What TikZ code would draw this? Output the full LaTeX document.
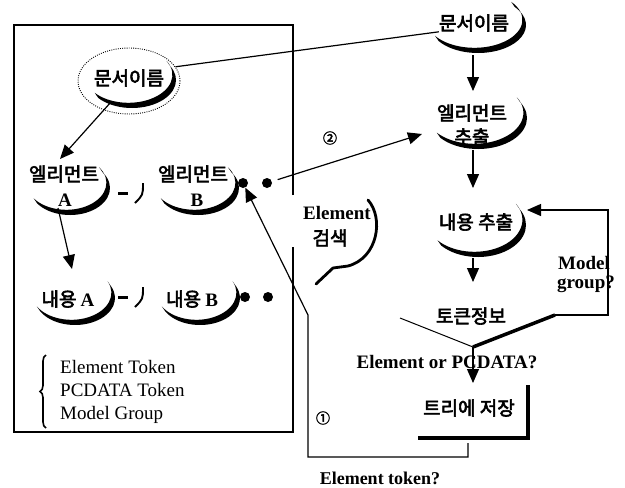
\documentclass[tikz,border=0pt]{standalone}
\usepackage{fontspec}
\setmainfont{Liberation Serif}
\newfontfamily\kr[FakeBold=3]{Noto Sans CJK KR}
\usetikzlibrary{arrows.meta,shapes.geometric,decorations.pathreplacing}
\begin{document}
\begin{tikzpicture}[x=1pt,y=-1pt,
  kr/.style={font=\kr\fontsize{19}{22}\selectfont, inner sep=0pt},
  lat/.style={font=\fontsize{19}{22}\selectfont, inner sep=0pt},
  latb/.style={font=\fontsize{19}{22}\selectfont\bfseries, inner sep=0pt},
  conn/.style={line width=1.2pt},
  arr/.style={line width=1.2pt, -{Triangle[length=14pt,width=12pt]}},
  dot/.style={circle, fill, inner sep=0pt, minimum size=10pt},
  circ/.style={font=\kr\fontsize{14}{16}\selectfont, inner sep=0pt},
  pics/swoosh/.style n args={4}{code={
    \fill (#3:#1 and #2) arc[start angle=#3,end angle=#4,x radius=#1,y radius=#2]
      -- ([shift={(-3.6,-5.2)}]#4:#1 and #2)
      arc[start angle=#4,end angle=#3,x radius=#1,y radius=#2] -- cycle;
  }}]
\useasboundingbox (0,0) rectangle (625,488);

% left frame (open on the right between 195 and 247)
\draw[line width=1.5pt] (293,195) -- (293,25) -- (14,25) -- (14,432) -- (293,432) -- (293,247);

% text nodes
\node[kr] (docL) at (129,78) {문서이름};
\node[draw, ellipse, line width=0.9pt, dash pattern=on 0.9pt off 1.3pt,
      minimum width=102pt, minimum height=66pt, inner sep=0pt] (ell) at (129,81) {};
\node[kr] (docR) at (474,23) {문서이름};
\node[kr] (elA) at (64,174) {엘리먼트};
\node[latb] (elAl) at (65,200) {A};
\node[kr] (elB) at (193,174) {엘리먼트};
\node[latb] (elBl) at (197,200) {B};
\node[kr] (conA) at (68,299) {내용 {\rmfamily\bfseries A}};
\node[kr] (conB) at (192,299) {내용 {\rmfamily\bfseries B}};
\node[kr] (elX) at (472,113) {엘리먼트};
\node[kr] (elXl) at (472,137) {추출};
\node[kr] (conX) at (476,222) {내용 추출};
\node[kr] (tok) at (471,316) {토큰정보};
\node[kr] (tree) at (469,408) {트리에 저장};
\node[latb] (srch) at (337,213) {Element};
\node[kr] (srch2) at (330,238) {검색};
\node[latb] (q1) at (447,362) {Element or PCDATA?};
\node[latb, font=\fontsize{18}{20}\selectfont\bfseries] (q2) at (380,478) {Element token?};
\node[latb] (q3a) at (584,263) {Model};
\node[latb] (q3b) at (586,284) {group?};
\node[lat, anchor=west] (l1) at (60,367) {Element Token};
\node[lat, anchor=west] (l2) at (60,390) {PCDATA Token};
\node[lat, anchor=west] (l3) at (60,415) {Model Group};
\node[circ] (c1) at (323,418) {①};
\node[circ] (c2) at (330,138) {②};

% dots
\node[dot] (dB1) at (243,183) {};
\node[dot] (dB2) at (267,183) {};
\node[dot] (dC1) at (245,297) {};
\node[dot] (dC2) at (268,297) {};

% swooshes
\pic at (132,80) {swoosh={44}{28}{140}{-30}};
\pic at (478,25) {swoosh={48}{28}{145}{-40}};
\pic at (478,118) {swoosh={49}{31}{140}{-30}};
\pic at (478,225) {swoosh={48}{32}{140}{-30}};
\pic at (70,188) {swoosh={40}{27}{145}{-35}};
\pic at (198,188) {swoosh={41}{27}{145}{-35}};
\pic at (75,298) {swoosh={40}{27}{150}{-25}};
\pic at (200,298) {swoosh={40}{27}{150}{-25}};

% Element search callout
\draw[line width=2.8pt, line cap=round, line join=round]
  (368,200) .. controls (384,218) and (378,258) .. (348,266) -- (333,268) -- (316,284);

% small -> marks between A and B
\coordinate (m1a) at (118,193); \coordinate (m1b) at (128,193);
\coordinate (m1c) at (143,183); \coordinate (m1d) at (135,203);
\draw[line width=3pt] (m1a) -- (m1b);
\draw[line width=1.9pt] (m1c) .. controls (143,195) .. (m1d);
\coordinate (m2a) at (118,297); \coordinate (m2b) at (128,297);
\coordinate (m2c) at (143,287); \coordinate (m2d) at (135,307);
\draw[line width=3pt] (m2a) -- (m2b);
\draw[line width=1.9pt] (m2c) .. controls (143,299) .. (m2d);

% brace
\draw[decorate, decoration={brace, amplitude=6pt}, line width=1.6pt] (46,428) -- (46,355);

% connectors
\draw[conn] (ell.17) -- (docR.south west);
\coordinate (a1s) at (111,102); \coordinate (a1e) at (60,159);
\draw[arr] (a1s) -- (a1e);
\coordinate (a2s) at (58,208); \coordinate (a2e) at (72,269);
\draw[arr] (a2s) -- (a2e);
\coordinate (a3e) at (422,134);
\draw[arr, shorten <=6pt] (dB2) -- (a3e);
\coordinate (a4s) at (473,55); \coordinate (a4e) at (473,91);
\draw[arr] (a4s) -- (a4e);
\coordinate (a5s) at (473,150); \coordinate (a5e) at (473,188);
\draw[arr] (a5s) -- (a5e);
\coordinate (a6s) at (473,258); \coordinate (a6e) at (473,282);
\draw[arr] (a6s) -- (a6e);

% funnel under token info
\coordinate (vL) at (400,318); \coordinate (vR) at (555,315); \coordinate (vT) at (473,347);
\draw[line width=1pt] (vL) -- (vT);
\draw[line width=3.5pt] (vR) -- (vT);
\coordinate (a7e) at (473,383);
\draw[arr] (vT) -- (a7e);

% model group loop
\coordinate (lp1) at (608,315); \coordinate (lp2) at (608,210); \coordinate (lpE) at (527,210);
\draw[arr] (vR) -- (lp1) -- (lp2) -- (lpE);

% tree box (L-shaped shadow)
\coordinate (tL) at (418,438); \coordinate (tR) at (528,385);
\draw[line width=3.5pt] (tL) -| (tR);

% element token loop (1)
\coordinate (r1) at (468,443); \coordinate (r2) at (308,457); \coordinate (r3) at (308,315);
\draw[arr] (r1) |- (r2) -- (r3) -- (dB1);
\end{tikzpicture}
\end{document}
